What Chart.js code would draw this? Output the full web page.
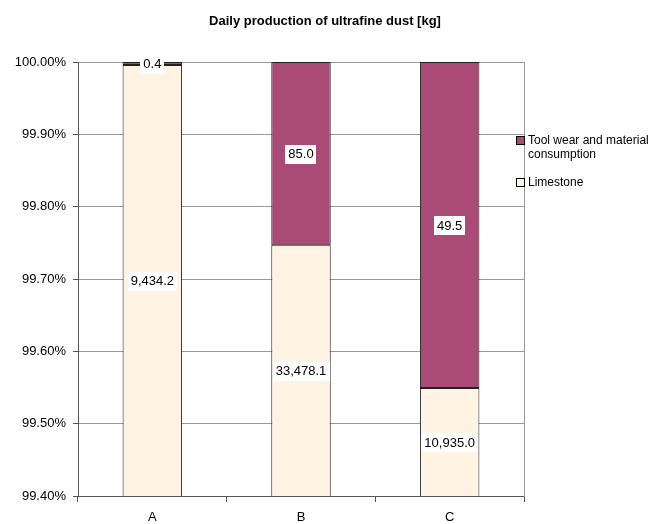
<!DOCTYPE html>
<html>
<head>
<meta charset="utf-8">
<script src="https://cdn.jsdelivr.net/npm/chart.js@4"></script>
<style>
  html, body { margin: 0; padding: 0; background: #fff; }
  #wrap { width: 648px; height: 524px; }
</style>
</head>
<body>
<div id="wrap"><canvas id="chart" width="648" height="524"></canvas></div>
<script>
const categories = ['A', 'B', 'C'];
const toolWear = [0.4, 85.0, 49.5];
const limestone = [9434.2, 33478.1, 10935.0];
const seriesNames = ['Tool wear and material consumption', 'Limestone'];
const legendLines = [['Tool wear and material', 'consumption'], ['Limestone']];
const yTicks = [99.4, 99.5, 99.6, 99.7, 99.8, 99.9, 100.0];

const FONT = '"Liberation Sans", Arial, sans-serif';

// share of each series in its column, in percent
const pct = (arr, i) => arr[i] / (toolWear[i] + limestone[i]) * 100;
const limestonePct = limestone.map((v, i) => pct(limestone, i));
const toolPct = toolWear.map((v, i) => pct(toolWear, i));

const fmt = v => v.toLocaleString('en-US', { minimumFractionDigits: 1, maximumFractionDigits: 1 });

const rawValues = [toolWear, limestone];

const valueLabels = {
    id: 'valueLabels',
    afterDatasetsDraw(chart) {
        const ctx = chart.ctx;
        const area = chart.chartArea;
        ctx.save();
        ctx.font = '13px ' + FONT;
        ctx.textAlign = 'center';
        ctx.textBaseline = 'middle';
        chart.data.datasets.forEach((ds, di) => {
            chart.getDatasetMeta(di).data.forEach((bar, i) => {
                const top = Math.max(Math.min(bar.y, bar.base), area.top);
                const bottom = Math.min(Math.max(bar.y, bar.base), area.bottom);
                const cy = (top + bottom) / 2;
                const text = fmt(rawValues[ds.rawIndex][i]);
                const w = ctx.measureText(text).width + 6;
                ctx.fillStyle = '#fff';
                ctx.fillRect(Math.round(bar.x - w / 2), Math.round(cy - 9), Math.round(w), 19);
                ctx.fillStyle = '#000';
                ctx.fillText(text, bar.x, cy + 1);
            });
        });
        ctx.restore();
    }
};

const titleAndLegend = {
    id: 'titleAndLegend',
    afterDraw(chart) {
        const ctx = chart.ctx;
        const area = chart.chartArea;
        ctx.save();
        ctx.fillStyle = '#000';
        ctx.font = 'bold 13px ' + FONT;
        ctx.textAlign = 'center';
        ctx.textBaseline = 'middle';
        ctx.fillText('Daily production of ultrafine dust [kg]', 325, 21);

        // right-hand legend, in series order (tool wear first)
        ctx.font = '12px ' + FONT;
        ctx.textAlign = 'left';
        const rows = [141, 183];
        chart.data.datasets.forEach(ds => {
            const k = ds.rawIndex;
            const y = rows[k];
            ctx.fillStyle = ds.backgroundColor;
            ctx.fillRect(area.right - 7.5, y - 4.5, 8, 8);
            ctx.strokeStyle = '#000';
            ctx.lineWidth = 1;
            ctx.strokeRect(area.right - 7.5, y - 4.5, 8, 8);
            ctx.fillStyle = '#000';
            legendLines[k].forEach((line, li) => {
                ctx.fillText(line, area.right + 4, y + li * 14);
            });
        });
        ctx.restore();
    }
};

new Chart(document.getElementById('chart'), {
    type: 'bar',
    data: {
        labels: categories,
        datasets: [
            {
                label: seriesNames[1],
                rawIndex: 1,
                data: limestonePct,
                backgroundColor: '#FFF4E4',
                borderColor: '#222',
                borderWidth: 1,
                borderSkipped: false,
                barPercentage: 0.4,
                categoryPercentage: 1
            },
            {
                label: seriesNames[0],
                rawIndex: 0,
                data: toolPct,
                backgroundColor: '#A94A77',
                borderColor: '#222',
                borderWidth: 1,
                borderSkipped: false,
                barPercentage: 0.4,
                categoryPercentage: 1
            }
        ]
    },
    options: {
        responsive: false,
        animation: false,
        layout: { padding: { top: 62, right: 124, bottom: 0, left: 0 } },
        plugins: {
            legend: { display: false },
            title: { display: false },
            tooltip: { enabled: false }
        },
        scales: {
            x: {
                stacked: true,
                grid: { display: true, drawOnChartArea: false, offset: true, tickLength: 6, color: '#555' },
                border: { color: '#555' },
                ticks: { color: '#000', font: { family: FONT, size: 13 }, padding: 8 },
                afterFit(scale) { scale.height = 28; }
            },
            y: {
                stacked: true,
                min: 99.4,
                max: 100,
                afterBuildTicks(scale) { scale.ticks = yTicks.map(v => ({ value: v })); },
                grid: { color: '#999', tickLength: 5, tickColor: '#555' },
                border: { color: '#555' },
                ticks: {
                    color: '#000',
                    font: { family: FONT, size: 13 },
                    padding: 7,
                    callback: v => v.toFixed(2) + '%'
                },
                afterFit(scale) { scale.width = 78; }
            },
            y2: {
                position: 'right',
                min: 0, max: 1,
                grid: { display: false },
                border: { color: '#999' },
                ticks: { display: false },
                afterFit(scale) { scale.width = 0; }
            }
        }
    },
    plugins: [valueLabels, titleAndLegend]
});
</script>
</body>
</html>
